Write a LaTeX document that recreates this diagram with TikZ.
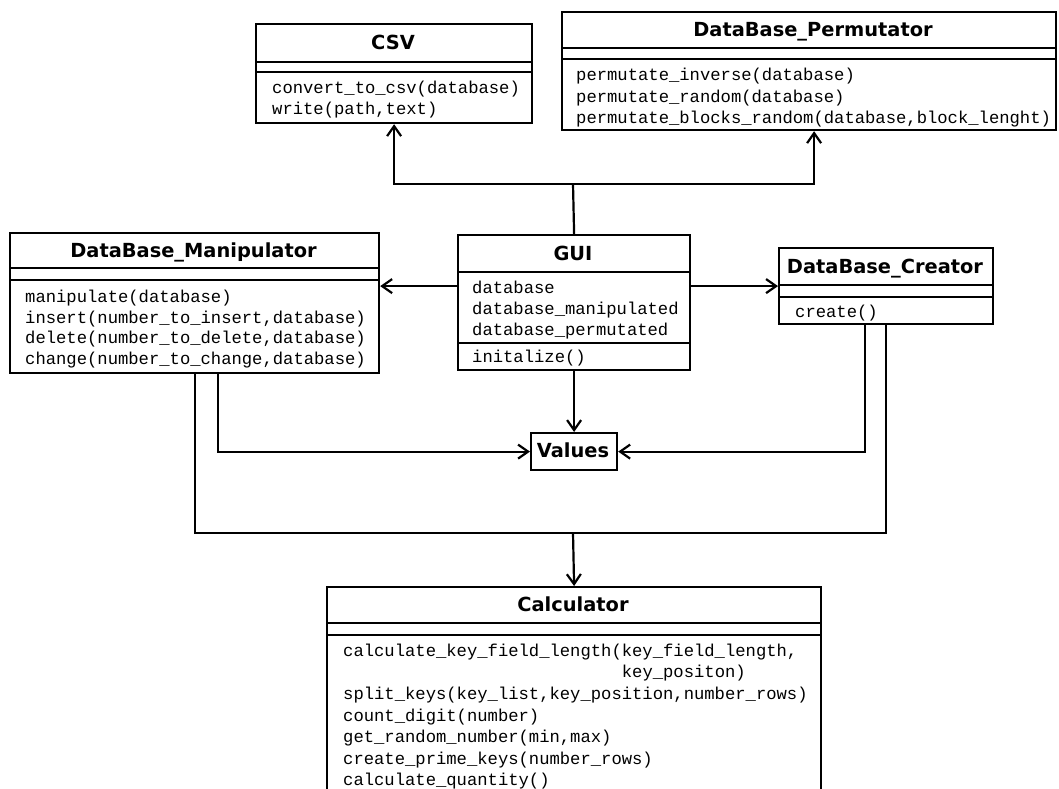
\documentclass[tikz,border=0pt]{standalone}
\usepackage{fontspec}
\setmonofont{Liberation Mono}
\newfontfamily\titlefont{DejaVu Sans}
\usetikzlibrary{arrows.meta}
\tikzset{
 box/.style={draw, line width=2.2pt, anchor=north west, inner sep=0pt, fill=white},
 sepline/.style={line width=2.2pt},
 ttl/.style={font=\titlefont\bfseries\fontsize{19.4}{22}\selectfont, anchor=base, inner sep=0pt},
 mem/.style={font=\ttfamily\fontsize{17.2}{21}\selectfont, anchor=base west, inner sep=0pt},
 conn/.style={line width=2.2pt},
 arr/.style={-{Straight Barb[length=10pt,width=14pt]}},
 barb/.style={{Straight Barb[length=10pt,width=14pt]}-{Straight Barb[length=10pt,width=14pt]}},
}
\begin{document}
\begin{tikzpicture}[x=1pt,y=-1pt]
\useasboundingbox (0,0) rectangle (1059,788);
\clip (0,0) rectangle (1059,788);
\fill[white] (0,0) rectangle (1059,788);

% CSV
\node[box, minimum width=276pt, minimum height=99pt] (csv) at (255,23) {};
\draw[sepline] (csv.west |- 0,62) -- (csv.east |- 0,62);
\draw[sepline] (csv.west |- 0,72) -- (csv.east |- 0,72);
\node[ttl] (csvT) at (393,49.5) {CSV};
\node[mem] (csv1) at (272,93) {convert\_to\_csv(database)};
\node[mem] (csv2) at (272,114) {write(path,text)};

% DataBase_Permutator
\node[box, minimum width=494pt, minimum height=118pt] (perm) at (561,11) {};
\draw[sepline] (perm.west |- 0,48) -- (perm.east |- 0,48);
\draw[sepline] (perm.west |- 0,59) -- (perm.east |- 0,59);
\node[ttl] (permT) at (813,36.5) {DataBase\_Permutator};
\node[mem] (perm1) at (576,80) {permutate\_inverse(database)};
\node[mem] (perm2) at (576,102) {permutate\_random(database)};
\node[mem] (perm3) at (576,123) {permutate\_blocks\_random(database,block\_lenght)};

% DataBase_Manipulator
\node[box, minimum width=369pt, minimum height=140pt] (manip) at (9,232) {};
\draw[sepline] (manip.west |- 0,268) -- (manip.east |- 0,268);
\draw[sepline] (manip.west |- 0,280) -- (manip.east |- 0,280);
\node[ttl] (manipT) at (193.5,257) {DataBase\_Manipulator};
\node[mem] (manip1) at (25,302) {manipulate(database)};
\node[mem] (manip2) at (25,323) {insert(number\_to\_insert,database)};
\node[mem] (manip3) at (25,343) {delete(number\_to\_delete,database)};
\node[mem] (manip4) at (25,364) {change(number\_to\_change,database)};

% GUI
\node[box, minimum width=232pt, minimum height=135pt] (gui) at (457,234) {};
\draw[sepline] (gui.west |- 0,272) -- (gui.east |- 0,272);
\draw[sepline] (gui.west |- 0,343) -- (gui.east |- 0,343);
\node[ttl] (guiT) at (573,260) {GUI};
\node[mem] (gui1) at (472,293) {database};
\node[mem] (gui2) at (472,314) {database\_manipulated};
\node[mem] (gui3) at (472,335) {database\_permutated};
\node[mem] (gui4) at (472,362) {initalize()};

% DataBase_Creator
\node[box, minimum width=214pt, minimum height=76pt] (creator) at (778,247) {};
\draw[sepline] (creator.west |- 0,285) -- (creator.east |- 0,285);
\draw[sepline] (creator.west |- 0,297) -- (creator.east |- 0,297);
\node[ttl] (creatorT) at (885,273) {DataBase\_Creator};
\node[mem] (creator1) at (795,317) {create()};

% Values
\node[box, minimum width=86pt, minimum height=37pt] (values) at (530,432) {};
\node[ttl] (valuesT) at (573,457.5) {Values};

% Calculator
\node[box, minimum width=494pt, minimum height=260pt] (calc) at (326,586) {};
\draw[sepline] (calc.west |- 0,623) -- (calc.east |- 0,623);
\draw[sepline] (calc.west |- 0,635) -- (calc.east |- 0,635);
\node[ttl] (calcT) at (573,611.5) {Calculator};
\node[mem] (calc1) at (343,656) {calculate\_key\_field\_length(key\_field\_length,};
\node[mem] (calc1b) at (343,677) {\hphantom{calculate\_key\_field\_length(}key\_positon)};
\node[mem] (calc2) at (343,699) {split\_keys(key\_list,key\_position,number\_rows)};
\node[mem] (calc3) at (343,721) {count\_digit(number)};
\node[mem] (calc4) at (343,742) {get\_random\_number(min,max)};
\node[mem] (calc5) at (343,764) {create\_prime\_keys(number\_rows)};
\node[mem] (calc6) at (343,785) {calculate\_quantity()};

% connectors
\coordinate (split) at (573,184);
\draw[conn] (gui.north) -- (split);
\draw[conn,barb] (csv.south) |- (split) -| ([xshift=5pt]perm.south);
\draw[conn,arr] (gui.west |- creator.west) -- (manip.east |- creator.west);
\draw[conn,arr] (gui.east |- creator.west) -- (creator.west);
\draw[conn,arr] (gui.south) -- (values.north);
\draw[conn,arr] ([xshift=23pt]manip.south) |- (values.west);
\draw[conn,arr] ([xshift=-21pt]creator.south) |- (values.east);
\coordinate (join) at (573,533);
\draw[conn] (manip.south) |- (join) -| (creator.south);
\draw[conn,arr] (join) -- (calc.north);
\end{tikzpicture}
\end{document}
